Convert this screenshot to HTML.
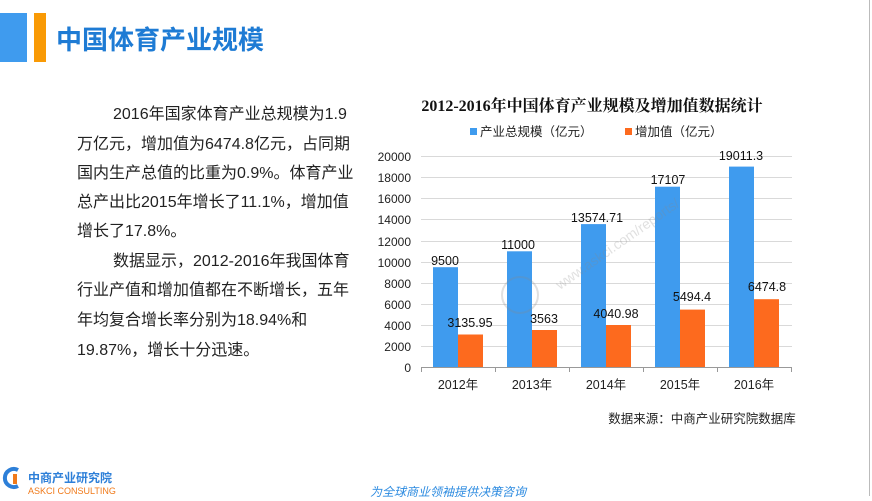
<!DOCTYPE html>
<html><head><meta charset="utf-8"><style>
body{margin:0;width:872px;height:501px;background:#fff;position:relative;overflow:hidden;font-family:"Liberation Sans","Noto Sans CJK SC",sans-serif}
.p{position:absolute;left:77px;font-size:16px;color:#222;white-space:nowrap;line-height:20px}
</style></head><body>
<div style="position:absolute;left:0;top:13px;width:27px;height:49px;background:#3f9bee"></div>
<div style="position:absolute;left:34px;top:13px;width:12px;height:49px;background:#f99a05"></div>
<div style="position:absolute;left:56px;top:23px;font-size:26px;font-weight:bold;color:#1e7bd4;line-height:34px">中国体育产业规模</div>
<div style="position:absolute;right:2px;top:0;width:1px;height:496px;background:#bbb"></div>

<div class="p" style="top:105px;left:113px">2016年国家体育产业总规模为1.9</div>
<div class="p" style="top:135px">万亿元，增加值为6474.8亿元，占同期</div>
<div class="p" style="top:164px">国内生产总值的比重为0.9%。体育产业</div>
<div class="p" style="top:193px">总产出比2015年增长了11.1%，增加值</div>
<div class="p" style="top:222px">增长了17.8%。</div>
<div class="p" style="top:252px;left:113px">数据显示，2012-2016年我国体育</div>
<div class="p" style="top:281px">行业产值和增加值都在不断增长，五年</div>
<div class="p" style="top:311px">年均复合增长率分别为18.94%和</div>
<div class="p" style="top:341px">19.87%，增长十分迅速。</div>

<svg style="position:absolute;left:0;top:0" width="872" height="501">
<g font-family="Liberation Serif,Noto Serif CJK SC,serif" font-weight="bold" font-size="16" fill="#111"><text x="592" y="111" text-anchor="middle">2012-2016年中国体育产业规模及增加值数据统计</text></g>
<g font-family="Liberation Sans,Noto Sans CJK SC,sans-serif" font-size="12.5" fill="#222">
<rect x="470" y="128" width="7" height="7" fill="#3f9bee"/><text x="480" y="136">产业总规模（亿元）</text>
<rect x="625" y="128" width="7" height="7" fill="#fd6a1e"/><text x="635" y="136">增加值（亿元）</text>
</g>
<g stroke="#d9d9d9" stroke-width="1">
<line x1="421" x2="792" y1="156.5" y2="156.5"/><line x1="421" x2="792" y1="177.5" y2="177.5"/><line x1="421" x2="792" y1="198.5" y2="198.5"/><line x1="421" x2="792" y1="219.5" y2="219.5"/><line x1="421" x2="792" y1="241.5" y2="241.5"/><line x1="421" x2="792" y1="262.5" y2="262.5"/><line x1="421" x2="792" y1="283.5" y2="283.5"/><line x1="421" x2="792" y1="304.5" y2="304.5"/><line x1="421" x2="792" y1="325.5" y2="325.5"/><line x1="421" x2="792" y1="346.5" y2="346.5"/>
</g>
<g font-family="Liberation Sans,sans-serif" font-size="12" fill="#222" text-anchor="end">
<text x="411" y="161">20000</text><text x="411" y="182">18000</text><text x="411" y="203">16000</text><text x="411" y="224">14000</text><text x="411" y="246">12000</text><text x="411" y="267">10000</text><text x="411" y="288">8000</text><text x="411" y="309">6000</text><text x="411" y="330">4000</text><text x="411" y="351">2000</text><text x="411" y="372">0</text>
</g>
<g fill="#3f9bee">
<rect x="433" y="267.2" width="25" height="100.5"/>
<rect x="507" y="251.3" width="25" height="116.4"/>
<rect x="581" y="224.1" width="25" height="143.6"/>
<rect x="655" y="186.7" width="25" height="181"/>
<rect x="729" y="166.6" width="25" height="201.1"/>
</g>
<g fill="#fd6a1e">
<rect x="458" y="334.5" width="25" height="33.2"/>
<rect x="532" y="330" width="25" height="37.7"/>
<rect x="606" y="325" width="25" height="42.7"/>
<rect x="680" y="309.6" width="25" height="58.1"/>
<rect x="754" y="299.2" width="25" height="68.5"/>
</g>
<g stroke="#999" stroke-width="1">
<line x1="421" x2="792" y1="367.5" y2="367.5"/>
<line x1="421.5" x2="421.5" y1="367" y2="372"/><line x1="495.5" x2="495.5" y1="367" y2="372"/><line x1="569.5" x2="569.5" y1="367" y2="372"/><line x1="643.5" x2="643.5" y1="367" y2="372"/><line x1="717.5" x2="717.5" y1="367" y2="372"/><line x1="791.5" x2="791.5" y1="367" y2="372"/>
</g>
<g font-family="Liberation Sans,sans-serif" font-size="12.5" fill="#111" text-anchor="middle">
<text x="445" y="265">9500</text><text x="518" y="249">11000</text><text x="597" y="222">13574.71</text><text x="668" y="184">17107</text><text x="741" y="160">19011.3</text>
<text x="470" y="327">3135.95</text><text x="544" y="323">3563</text><text x="616" y="318">4040.98</text><text x="692" y="301">5494.4</text><text x="767" y="291">6474.8</text>
</g>
<g font-family="Liberation Sans,Noto Sans CJK SC,sans-serif" font-size="12.5" fill="#222" text-anchor="middle">
<text x="458" y="389">2012年</text><text x="532" y="389">2013年</text><text x="606" y="389">2014年</text><text x="680" y="389">2015年</text><text x="754" y="389">2016年</text>
<text x="702" y="423">数据来源：中商产业研究院数据库</text>
</g>
<g opacity="0.25"><circle cx="520" cy="295" r="18" fill="none" stroke="#888" stroke-width="2"/><text x="560" y="290" font-size="14" fill="#888" transform="rotate(-35 560 290)" font-family="Liberation Sans,sans-serif">www.askci.com/reports/</text></g>
<path d="M18 470 a9 9 0 1 0 0 16" stroke="#2d7fd8" stroke-width="4" fill="none"/>
<rect x="13" y="474" width="4" height="10" fill="#f07a1a"/>
<text x="28" y="482" font-size="12" font-weight="bold" fill="#2d7fd8" font-family="Liberation Sans,Noto Sans CJK SC,sans-serif">中商产业研究院</text>
<text x="28" y="494" font-size="9" fill="#f07a1a" font-family="Liberation Sans,sans-serif">ASKCI CONSULTING</text>
<text x="448" y="496" text-anchor="middle" font-size="12" font-style="italic" fill="#2d8be0" font-family="Liberation Sans,Noto Sans CJK SC,sans-serif">为全球商业领袖提供决策咨询</text>
</svg>
</body></html>
